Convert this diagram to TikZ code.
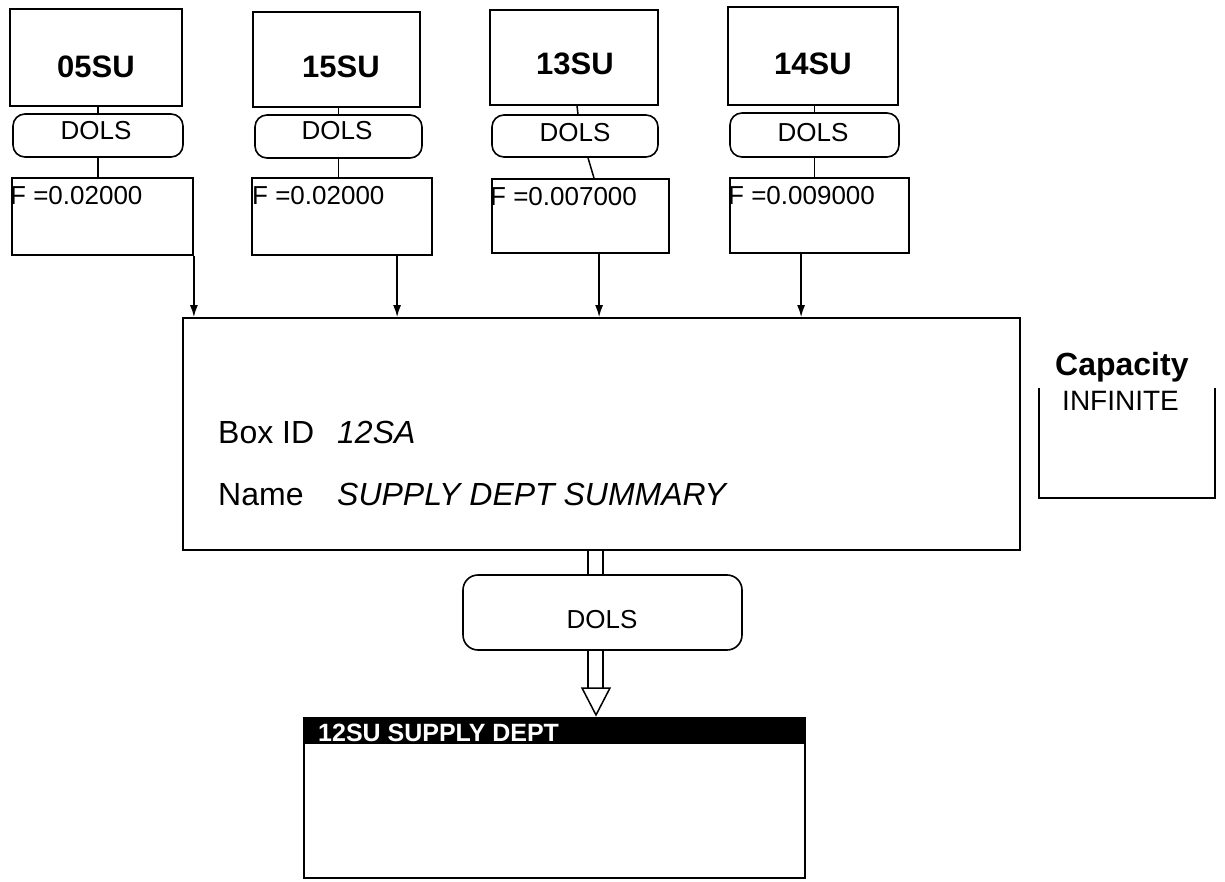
\documentclass[tikz,border=0pt]{standalone}
\usepackage{fontspec}
\setmainfont{Liberation Sans}
\usetikzlibrary{arrows.meta,calc}
\newcommand\myfs[1]{\fontsize{#1}{#1}\selectfont}
\begin{document}
\begin{tikzpicture}[x=1pt,y=-1pt,
  box/.style={draw,line width=1.8pt,inner sep=0pt},
  pill/.style={draw,line width=1.6pt,rounded corners=12pt,inner sep=0pt},
  link/.style={line width=1.5pt},
  arr/.style={line width=1.5pt,-{Latex[length=12pt,width=8pt]}},
  big/.style={font=\myfs{31}\bfseries,anchor=base,inner sep=0pt},
  dols/.style={font=\myfs{26},anchor=base,inner sep=0pt},
  ftxt/.style={font=\myfs{26},anchor=base west,inner sep=0pt},
  mtxt/.style={font=\myfs{32},anchor=base west,inner sep=0pt}]
\useasboundingbox (0,0) rectangle (1225,882);

% top source boxes
\node[box,minimum width=172pt,minimum height=97pt] (b1) at (96,57.5) {};
\node[box,minimum width=167pt,minimum height=95pt] (b2) at (336.5,59.5) {};
\node[box,minimum width=168pt,minimum height=95pt] (b3) at (574,57.5) {};
\node[box,minimum width=170pt,minimum height=98pt] (b4) at (813,56) {};
\node[big] (t1) at (96,78) {05SU};
\node[big] (t2) at (341,78) {15SU};
\node[big] (t3) at (575,75) {13SU};
\node[big] (t4) at (813,75) {14SU};

% DOLS pills
\node[pill,minimum width=170pt,minimum height=43pt] (p1) at (98,135.5) {};
\node[pill,minimum width=167pt,minimum height=43pt] (p2) at (338.5,136.5) {};
\node[pill,minimum width=166pt,minimum height=42pt] (p3) at (575,136) {};
\node[pill,minimum width=169pt,minimum height=44pt] (p4) at (814.5,135) {};
\node[dols] (d1) at (96,140) {DOLS};
\node[dols] (d2) at (337,140) {DOLS};
\node[dols] (d3) at (575,142) {DOLS};
\node[dols] (d4) at (813,142) {DOLS};

% F boxes
\node[box,minimum width=181pt,minimum height=77pt] (f1) at (102.5,216.5) {};
\node[box,minimum width=180pt,minimum height=77pt] (f2) at (342,216.5) {};
\node[box,minimum width=177pt,minimum height=74pt] (f3) at (580.5,216) {};
\node[box,minimum width=179pt,minimum height=75pt] (f4) at (819.5,215.5) {};
\node[ftxt] (ft1) at (10,205) {F =0.02000};
\node[ftxt] (ft2) at (252,205) {F =0.02000};
\node[ftxt] (ft3) at (490,206) {F =0.007000};
\node[ftxt] (ft4) at (728,205) {F =0.009000};

% box -> pill -> F links
\draw[link] (p1.north |- b1.south) -- (p1.north);
\draw[link] (p2.north |- b2.south) -- (p2.north);
\draw[link] ([xshift=3pt]b3.south) -- ([xshift=3pt]p3.north);
\draw[link] (p4.north |- b4.south) -- (p4.north);
\draw[link] (p1.south) -- (p1.south |- f1.north);
\draw[link] (p2.south) -- (p2.south |- f2.north);
\draw[link] ([xshift=13pt]p3.south) -- ([xshift=13.5pt]f3.north);
\draw[link] (p4.south) -- (p4.south |- f4.north);

% main box
\node[box,minimum width=837pt,minimum height=232pt] (main) at (601.5,434) {};
\node[mtxt] (lbid) at (218,443) {Box ID};
\node[mtxt,font=\myfs{32}\itshape] (vbid) at (337,443) {12SA};
\node[mtxt] (lnm) at (218,505) {Name};
\node[mtxt,font=\myfs{32}\itshape] (vnm) at (337,505) {SUPPLY DEPT SUMMARY};

% arrows F -> main
\coordinate (a1) at (f1.south east);
\coordinate (a2) at ([xshift=146pt]f2.south west);
\coordinate (a3) at ([xshift=108pt]f3.south west);
\coordinate (a4) at ([xshift=72pt]f4.south west);
\draw[arr] (a1) -- (a1 |- main.north);
\draw[arr] (a2) -- (a2 |- main.north);
\draw[arr] (a3) -- (a3 |- main.north);
\draw[arr] (a4) -- (a4 |- main.north);

% capacity
\node[mtxt,font=\myfs{32}\bfseries] (cap) at (1055,375) {Capacity};
\node[mtxt,font=\myfs{28}] (inf) at (1062,410) {INFINITE};
\coordinate (c1) at (1039,388);
\coordinate (c2) at (1039,498);
\coordinate (c3) at (1215,498);
\coordinate (c4) at (1215,388);
\draw[line width=1.8pt] (c1) -- (c2) -- (c3) -- (c4);

% output pill and bottom box
\node[pill,rounded corners=15pt,minimum width=279pt,minimum height=75pt] (pb) at (602.5,612.5) {};
\node[dols] (db) at (602,628) {DOLS};
\node[box,minimum width=501pt,minimum height=160pt] (ob) at (554.5,798) {};
\node[box,fill=black,minimum width=501pt,minimum height=25pt] (obh) at (554.5,730.5) {};
\node[anchor=base west,inner sep=0pt,text=white,font=\myfs{25}\bfseries] (obt) at (318,741) {12SU SUPPLY DEPT};

\coordinate (dl) at (588,0);
\coordinate (dr) at (603,0);
\draw[link] (dl |- main.south) -- (dl |- pb.north);
\draw[link] (dr |- main.south) -- (dr |- pb.north);
\coordinate (tl) at (582,688);
\coordinate (tr) at (610,688);
\coordinate (tt) at (596,715);
\draw[link] (dl |- pb.south) -- (dl |- tl);
\draw[link] (dr |- pb.south) -- (dr |- tl);
\draw[link,fill=white] (tl) -- (tr) -- (tt) -- cycle;
\end{tikzpicture}
\end{document}
